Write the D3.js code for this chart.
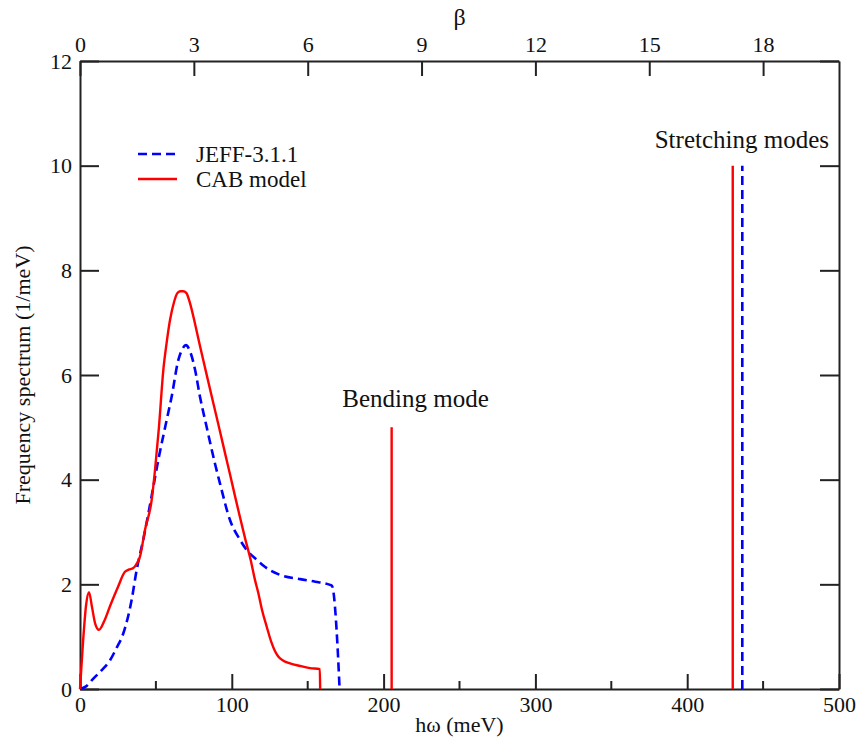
<!DOCTYPE html>
<html lang="en">
<head>
    <meta charset="UTF-8">
    <title>Frequency spectrum</title>
    <script src="https://d3js.org/d3.v7.min.js"></script>
    <style>
        body {
            margin: 0;
            background-color: #ffffff;
        }

        svg {
            font-family: "Liberation Serif", "DejaVu Serif", serif;
        }

        .axis path,
        .axis line {
            stroke: #222;
            stroke-width: 2px;
        }

        .axis text {
            font-size: 22px;
            fill: #111;
        }

        .line {
            fill: none;
            stroke-linejoin: round;
        }

        .label {
            fill: #111;
        }
    </style>
</head>
<body>
<svg width="863" height="737"></svg>
<script>
    // CAB model (energy in meV, spectrum in 1/meV)
    const cabEnergy = [0, 2, 4, 5.9, 8, 10, 12.5, 16, 20, 25, 29.6, 32, 35.1, 37.5, 39.5, 42.8, 47.2, 49.4, 52, 54.9, 57, 59.3, 62, 64, 66, 68, 70, 72.5, 76, 79, 83, 88, 92, 96, 99, 102, 105.4, 109, 112.4, 115.3, 117.5, 120, 123, 126, 128.5, 130.6, 134, 138.3, 145, 151.5, 158, 158.2];
    const cabValue  = [0, 0.9, 1.6, 1.85, 1.55, 1.25, 1.13, 1.3, 1.6, 1.95, 2.24, 2.28, 2.31, 2.4, 2.53, 3.04, 3.61, 4.18, 5.0, 6.1, 6.6, 7.05, 7.4, 7.56, 7.6, 7.6, 7.57, 7.37, 6.95, 6.56, 6.06, 5.44, 4.95, 4.45, 4.08, 3.7, 3.28, 2.85, 2.47, 2.08, 1.83, 1.5, 1.19, 0.9, 0.72, 0.62, 0.54, 0.49, 0.44, 0.40, 0.38, 0];

    // JEFF-3.1.1
    const jeffEnergy = [0, 4, 8.8, 14, 19.8, 24, 28.5, 34, 37.3, 42, 46, 51.6, 57.1, 60.4, 64.8, 67.5, 69.8, 72.5, 75.8, 79, 83.4, 88.9, 92.2, 98.8, 105.4, 110, 116.4, 122, 131.8, 145, 155, 164.7, 166, 170, 171];
    const jeffValue  = [0, 0.05, 0.2, 0.35, 0.55, 0.78, 1.06, 1.7, 2.27, 2.9, 3.5, 4.38, 5.14, 5.59, 6.29, 6.5, 6.57, 6.45, 6.1, 5.59, 5.01, 4.31, 3.93, 3.23, 2.85, 2.65, 2.47, 2.33, 2.18, 2.1, 2.05, 1.99, 1.97, 0.62, 0];

    // discrete modes: [energy, height]
    const cabModes  = [[205.3, 5], [430, 10]];
    const jeffModes = [[436.3, 10]];

    const xTicks    = [0, 100, 200, 300, 400, 500];
    const xMinor    = [50, 150, 250, 350, 450];
    const yTicks    = [0, 2, 4, 6, 8, 10, 12];
    const betaTicks = [0, 3, 6, 9, 12, 15, 18];

    const serif = '"Liberation Serif", "DejaVu Serif", serif';

    const svg = d3.select("svg"),
        margin = {top: 61, right: 24, bottom: 48, left: 80},
        width = +svg.attr("width") - margin.left - margin.right,
        height = +svg.attr("height") - margin.top - margin.bottom,
        g = svg.append("g").attr("transform", `translate(${margin.left},${margin.top})`);

    const x = d3.scaleLinear().domain([0, 500]).range([0, width]),
        beta = d3.scaleLinear().domain([0, 20]).range([0, width]),
        y = d3.scaleLinear().domain([0, 12]).range([height, 0]);

    const line = d3.line()
        .x(d => x(d[0]))
        .y(d => y(d[1]))
        .curve(d3.curveMonotoneX);

    // axes, ticks drawn inward
    g.append("g")
        .attr("class", "axis")
        .attr("transform", `translate(0,${height})`)
        .call(d3.axisBottom(x).tickValues(xTicks).tickSize(-15).tickPadding(7).tickSizeOuter(0))
        .call(a => a.selectAll(".minor").data(xMinor).enter()
            .append("line").attr("class", "minor")
            .attr("x1", d => x(d)).attr("x2", d => x(d))
            .attr("y1", 0).attr("y2", -8));

    g.append("g")
        .attr("class", "axis")
        .call(d3.axisTop(beta).tickValues(betaTicks).tickSize(-15).tickPadding(9).tickSizeOuter(0));

    g.append("g")
        .attr("class", "axis")
        .call(d3.axisLeft(y).tickValues(yTicks).tickSize(-19).tickPadding(8).tickSizeOuter(0));

    g.append("g")
        .attr("class", "axis")
        .attr("transform", `translate(${width},0)`)
        .call(d3.axisRight(y).tickValues(yTicks).tickSize(-19).tickFormat("").tickSizeOuter(0));

    // d3 puts sans-serif on the axis groups, switch back to the serif face
    g.selectAll(".axis").attr("font-family", null);
    g.selectAll(".axis text").style("font-family", serif);

    // curves
    g.append("path")
        .datum(d3.zip(jeffEnergy, jeffValue))
        .attr("class", "line")
        .attr("stroke", "#0000ff")
        .attr("stroke-width", 2.6)
        .attr("stroke-dasharray", "9,5")
        .attr("d", line);

    g.append("path")
        .datum(d3.zip(cabEnergy, cabValue))
        .attr("class", "line")
        .attr("stroke", "#ff0000")
        .attr("stroke-width", 2.4)
        .attr("d", line);

    g.selectAll(".cab-mode")
        .data(cabModes)
        .enter().append("line")
        .attr("class", "cab-mode")
        .attr("x1", d => x(d[0])).attr("x2", d => x(d[0]))
        .attr("y1", y(0)).attr("y2", d => y(d[1]))
        .attr("stroke", "#ff0000")
        .attr("stroke-width", 2.4);

    g.selectAll(".jeff-mode")
        .data(jeffModes)
        .enter().append("line")
        .attr("class", "jeff-mode")
        .attr("x1", d => x(d[0])).attr("x2", d => x(d[0]))
        .attr("y1", y(0)).attr("y2", d => y(d[1]))
        .attr("stroke", "#0000ff")
        .attr("stroke-width", 2.6)
        .attr("stroke-dasharray", "9,5");

    // annotations
    g.append("text").attr("class", "label")
        .attr("x", x(221)).attr("y", y(5) - 20)
        .attr("text-anchor", "middle").style("font-size", "25px")
        .text("Bending mode");

    g.append("text").attr("class", "label")
        .attr("x", x(436)).attr("y", y(10) - 18)
        .attr("text-anchor", "middle").style("font-size", "25px")
        .text("Stretching modes");

    // legend
    const legend = g.append("g").attr("transform", "translate(58,93)");
    legend.append("line")
        .attr("x1", 0).attr("x2", 39).attr("y1", 0).attr("y2", 0)
        .attr("stroke", "#0000ff").attr("stroke-width", 2.6).attr("stroke-dasharray", "9,5");
    legend.append("text").attr("class", "label")
        .attr("x", 58).attr("y", 8).style("font-size", "23px")
        .text("JEFF-3.1.1");
    legend.append("line")
        .attr("x1", 0).attr("x2", 39).attr("y1", 25).attr("y2", 25)
        .attr("stroke", "#ff0000").attr("stroke-width", 2.4);
    legend.append("text").attr("class", "label")
        .attr("x", 58).attr("y", 33).style("font-size", "23px")
        .text("CAB model");

    // axis titles
    svg.append("text").attr("class", "label")
        .attr("x", margin.left + width / 2).attr("y", 732)
        .attr("text-anchor", "middle").style("font-size", "22px")
        .text("hω (meV)");

    svg.append("text").attr("class", "label")
        .attr("x", margin.left + width / 2).attr("y", 25)
        .attr("text-anchor", "middle").style("font-size", "24px")
        .text("β");

    svg.append("text").attr("class", "label")
        .attr("transform", `translate(30,${margin.top + height / 2}) rotate(-90)`)
        .attr("text-anchor", "middle").style("font-size", "22px")
        .text("Frequency spectrum (1/meV)");
</script>
</body>
</html>
